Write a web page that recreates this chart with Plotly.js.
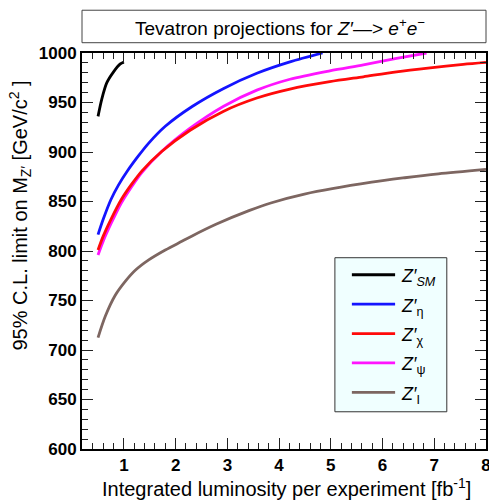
<!DOCTYPE html>
<html>
<head>
<meta charset="utf-8">
<script src="https://cdn.plot.ly/plotly-3.0.1.min.js"></script>
<style>
  html, body { margin: 0; padding: 0; background: #fff; }
  #chart { width: 489px; height: 500px; }
</style>
</head>
<body>
<div id="chart"></div>
<script>
// Projected 95% C.L. lower mass limits on Z' bosons (Z' -> e+e-) vs integrated luminosity

// Z'_SM
const lumiSM = [0.5, 0.57, 0.67, 0.8, 0.93, 1.0];
const limitSM = [936, 953, 970, 981, 989, 991];

// Z'_eta
const lumiEta = [0.5, 0.6, 0.75, 0.9, 1.07, 1.28, 1.48, 1.8, 2.32, 2.92, 3.57, 4.21, 4.84];
const limitEta = [816.5, 832, 852, 867, 881, 896, 909, 926, 946, 964, 979.5, 991, 1000];

// Z'_chi
const lumiChi = [0.5, 0.6, 0.75, 0.95, 1.15, 1.35, 1.73, 2.28, 2.92, 3.57, 4.21, 4.98, 5.63, 6.27, 6.92, 7.56, 8.0];
const limitChi = [801, 815, 832, 852, 867.5, 881, 900.5, 922, 941, 954.5, 963.5, 971, 976, 981, 985, 988.5, 990.5];

// Z'_psi
const lumiPsi = [0.5, 0.6, 0.75, 0.95, 1.15, 1.35, 1.73, 2.28, 2.92, 3.57, 4.21, 4.98, 5.63, 6.27, 6.85];
const limitPsi = [796, 810, 827.5, 848.5, 865, 879.5, 900.5, 924, 946, 962.5, 973.5, 982, 988, 994.5, 1000];

// Z'_I
const lumiI = [0.5, 0.64, 0.83, 1.03, 1.22, 1.48, 1.8, 2.13, 2.31, 2.78, 3.43, 3.84, 4.49, 5.79, 6.43, 7.08, 8.0];
const limitI = [712.5, 734, 755, 769.5, 780.5, 791, 801, 810, 815, 827, 841, 848.5, 857.5, 869.5, 874, 878, 882.5];

const seriesLumi = [lumiSM, lumiEta, lumiChi, lumiPsi, lumiI];
const seriesLimit = [limitSM, limitEta, limitChi, limitPsi, limitI];
const seriesNames = [
  "<i>Z′</i><sub><i>SM</i></sub>",
  "<i>Z′</i><sub>η</sub>",
  "<i>Z′</i><sub>χ</sub>",
  "<i>Z′</i><sub>ψ</sub>",
  "<i>Z′</i><sub>I</sub>"
];
const seriesColors = ["#000000", "#1414ff", "#ff0a0a", "#ff14ff", "#7d6661"];

// Axis ticks
const xTickVals = [1, 2, 3, 4, 5, 6, 7, 8];
const yTickVals = [600, 650, 700, 750, 800, 850, 900, 950, 1000];

const FONT = "Liberation Sans, Arial, Helvetica, sans-serif";

// Draw order: psi under chi so the red curve sits on top where they overlap
const drawOrder = [0, 1, 3, 2, 4];
const traces = drawOrder.map(i => ({
  x: seriesLumi[i],
  y: seriesLimit[i],
  type: "scatter",
  mode: "lines",
  name: seriesNames[i],
  line: { color: seriesColors[i], width: 2.8, shape: "spline", smoothing: 0.8 },
  hoverinfo: "skip"
}));

// Hand-placed legend box, sample lines and labels
const legendX0 = 0.626, legendX1 = 0.903, legendY0 = 0.094, legendY1 = 0.483;
const entryTop = 0.440, entryStep = 0.0742;
const shapes = [
  // title box
  { type: "rect", xref: "paper", yref: "paper", x0: 0, x1: 1, y0: 1.026, y1: 1.108,
    line: { color: "#444", width: 1 }, fillcolor: "#ffffff", layer: "above" },
  // legend box
  { type: "rect", xref: "paper", yref: "paper", x0: legendX0, x1: legendX1, y0: legendY0, y1: legendY1,
    line: { color: "#333", width: 1 }, fillcolor: "#f0ffff", layer: "above" }
];
const annotations = [
  { xref: "paper", yref: "paper", x: 0.49, y: 1.066, xanchor: "center", yanchor: "middle",
    text: "Tevatron projections for <i>Z′</i>—> <i>e</i><sup>+</sup><i>e</i><sup>−</sup>",
    showarrow: false, font: { family: FONT, size: 19, color: "#000" } },
  { xref: "paper", yref: "paper", x: 0.968, y: -0.098, xanchor: "right", yanchor: "middle",
    text: "Integrated luminosity per experiment [fb<sup>-1</sup>]",
    showarrow: false, font: { family: FONT, size: 20, color: "#000" } },
  { xref: "paper", yref: "paper", x: -0.153, y: 0.590, xanchor: "center", yanchor: "middle",
    textangle: -90,
    text: "95% C.L. limit on M<sub>Z′</sub> [GeV/c<sup>2</sup> ]",
    showarrow: false, font: { family: FONT, size: 20, color: "#000" } }
];
seriesNames.forEach((nm, i) => {
  const yy = entryTop - i * entryStep;
  shapes.push({ type: "line", xref: "paper", yref: "paper", x0: 0.668, x1: 0.775, y0: yy, y1: yy,
    line: { color: seriesColors[i], width: 2.8 }, layer: "above" });
  annotations.push({ xref: "paper", yref: "paper", x: 0.785, y: yy, xanchor: "left", yanchor: "middle",
    yshift: -3, text: nm, showarrow: false, font: { family: FONT, size: 18, color: "#000" } });
});

const axisCommon = {
  showline: true, linecolor: "#000", linewidth: 2, mirror: "ticks",
  ticks: "inside", ticklen: 11, tickwidth: 1, tickcolor: "#222",
  showgrid: false, zeroline: false, ticklabeloverflow: "allow",
  tickfont: { family: FONT, size: 17, color: "#000", weight: "bold" }
};

const layout = {
  width: 489, height: 500,
  margin: { l: 82, r: 3, t: 53, b: 51 },
  paper_bgcolor: "#fff", plot_bgcolor: "#fff",
  showlegend: false,
  xaxis: Object.assign({}, axisCommon, {
    range: [0.19, 8.0], tickmode: "array", tickvals: xTickVals, ticktext: xTickVals.map(String),
    minor: { ticks: "inside", ticklen: 6, tickwidth: 1, tickcolor: "#222", dtick: 0.2, tick0: 0 }
  }),
  yaxis: Object.assign({}, axisCommon, {
    range: [600, 1000], tickmode: "array", tickvals: yTickVals, ticktext: yTickVals.map(String),
    minor: { ticks: "inside", ticklen: 6, tickwidth: 1, tickcolor: "#222", dtick: 10, tick0: 0 }
  }),
  shapes: shapes,
  annotations: annotations
};

Plotly.newPlot("chart", traces, layout, { staticPlot: true, displayModeBar: false });
</script>
</body>
</html>
